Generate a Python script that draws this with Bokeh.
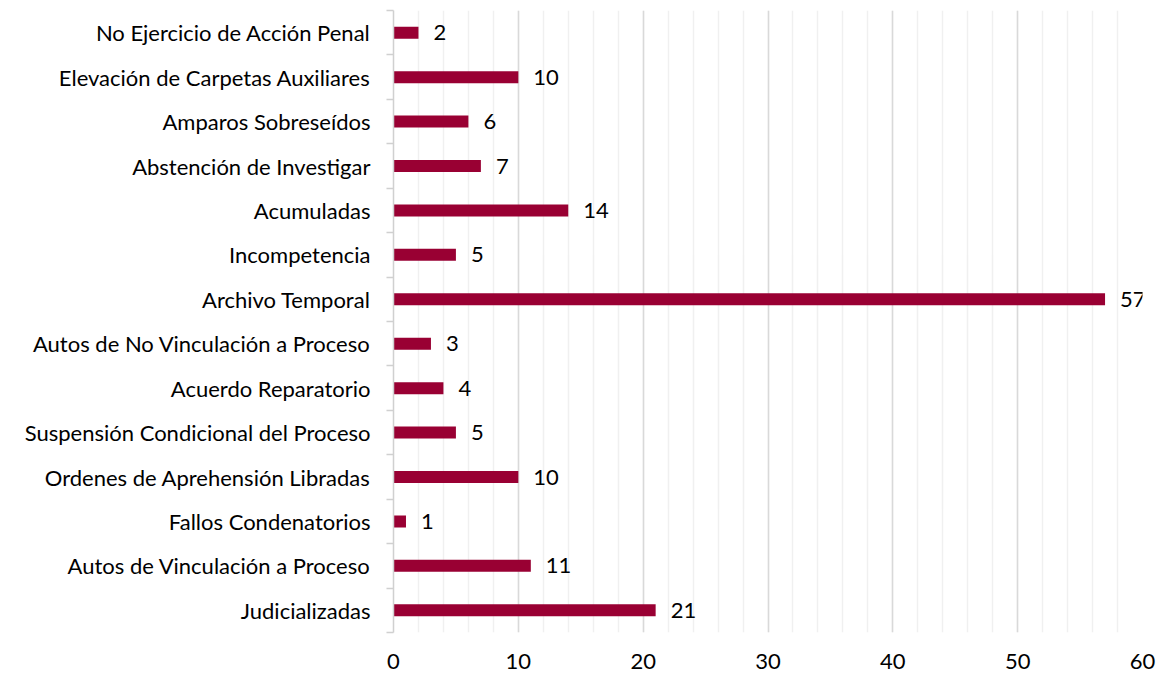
from bokeh.plotting import figure
from bokeh.models import ColumnDataSource, FixedTicker, Range1d, LabelSet
from bokeh.core.properties import value
from bokeh.embed import file_html
from bokeh.resources import INLINE

categories = [
    "No Ejercicio de Acción Penal",
    "Elevación de Carpetas Auxiliares",
    "Amparos Sobreseídos",
    "Abstención de Investigar",
    "Acumuladas",
    "Incompetencia",
    "Archivo Temporal",
    "Autos de No Vinculación a Proceso",
    "Acuerdo Reparatorio",
    "Suspensión Condicional del Proceso",
    "Ordenes de Aprehensión Libradas",
    "Fallos Condenatorios",
    "Autos de Vinculación a Proceso",
    "Judicializadas",
]
values = [2, 10, 6, 7, 14, 5, 57, 3, 4, 5, 10, 1, 11, 21]
x_ticks = [0, 10, 20, 30, 40, 50, 60]

FONT = "Lato"
FS = "22px"
n = len(categories)
ypos = [n - i - 0.5 for i in range(n)]

src = ColumnDataSource(dict(
    y=ypos, v=values, cat=categories, lab=[str(v) for v in values],
))

p = figure(width=1162, height=677, output_backend="svg", toolbar_location=None,
           x_range=Range1d(0, 60), y_range=Range1d(0, n),
           min_border_left=393, min_border_right=20, min_border_top=10,
           min_border_bottom=45)
p.outline_line_color = None
p.background_fill_color = "white"

p.hbar(y="y", right="v", left=0, height=0.27, source=src,
       fill_color="#990033", line_color=None)

labels = LabelSet(x="v", y="y", text="lab", source=src, x_offset=15, y_offset=0,
                  text_baseline="middle", text_align="left",
                  text_font=value(FONT), text_font_size=FS, text_color="#000000")
p.add_layout(labels)

# x axis
p.xaxis.ticker = FixedTicker(ticks=x_ticks, minor_ticks=list(range(0, 61, 2)))
p.xaxis.axis_line_color = None
p.xaxis.major_tick_line_color = None
p.xaxis.minor_tick_line_color = None
p.xaxis.major_label_text_font = FONT
p.xaxis.major_label_text_font_size = FS
p.xaxis.major_label_text_color = "#000000"
p.xaxis.major_label_standoff = 15

p.xgrid.grid_line_color = "#d9d9d9"
p.xgrid.grid_line_width = 1.5
p.xgrid.minor_grid_line_color = "#f0f0f0"
p.xgrid.minor_grid_line_width = 1.5
p.ygrid.grid_line_color = None

# y axis
p.yaxis.ticker = FixedTicker(ticks=ypos, minor_ticks=list(range(0, n + 1)))
p.yaxis.major_label_overrides = {y: c for y, c in zip(ypos, categories)}
p.yaxis.axis_line_color = "#d0d0d0"
p.yaxis.axis_line_width = 1.5
p.yaxis.major_tick_line_color = None
p.yaxis.major_tick_out = 0
p.yaxis.minor_tick_line_color = "#d0d0d0"
p.yaxis.minor_tick_line_width = 1.5
p.yaxis.minor_tick_out = 7
p.yaxis.minor_tick_in = 0
p.yaxis.major_label_text_font = FONT
p.yaxis.major_label_text_font_size = FS
p.yaxis.major_label_text_color = "#000000"
p.yaxis.major_label_standoff = 16

open("out.html", "w").write(file_html(p, INLINE))
